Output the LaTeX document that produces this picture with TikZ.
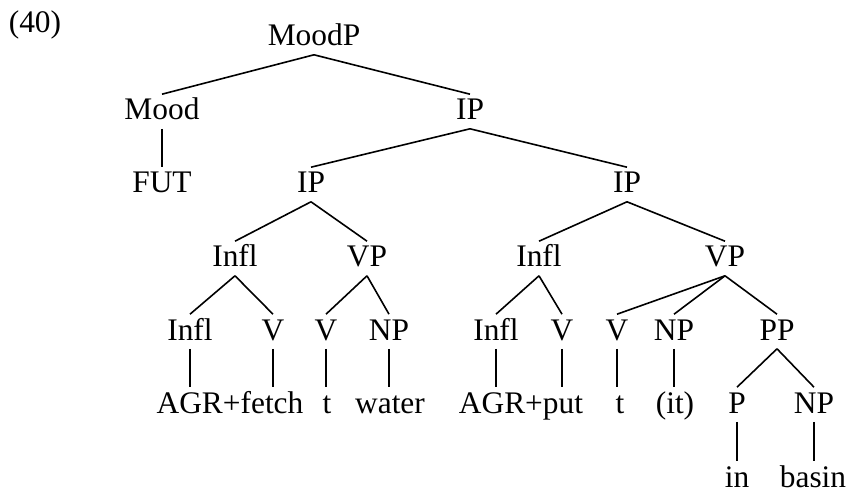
\documentclass[tikz,border=0pt]{standalone}
\usepackage{fontspec}
\setmainfont{Liberation Serif}
\begin{document}
\begin{tikzpicture}[x=0.5pt,y=-0.5pt,line width=0.8pt,
	every node/.style={font=\fontsize{15.7}{18}\selectfont, anchor=base,
		inner sep=1.5pt, text height=11pt, text depth=2.5pt}]
\useasboundingbox (0,0) rectangle (850,491);
\def\down#1#2{\draw (#1.south) -- (#1.south |- #2.north);}

\node (ex) at (35,33) {(40)};

% upper part of the tree
\node (moodp) at (314,46) {MoodP};
\node (mood) at (162,120) {Mood};
\node (ip) at (470,120) {IP};
\node (fut) at (162,193) {FUT};
\node (ipa) at (311,193) {IP};
\node (ipb) at (627,193) {IP};

% first conjunct
\node (infla) at (235,267) {Infl};
\node (vpa) at (367,267) {VP};
\node (inflc) at (190,340) {Infl};
\node (va) at (273,340) {V};
\node (vb) at (326,340) {V};
\node (npa) at (389,340) {NP};
\node (agrf) at (230,413) {AGR+fetch};
\node (ta) at (327,413) {t};
\node (water) at (390,413) {water};

% second conjunct
\node (inflb) at (539,267) {Infl};
\node (vpb) at (725,267) {VP};
\node (infld) at (496,340) {Infl};
\node (vc) at (562,340) {V};
\node (vd) at (617,340) {V};
\node (npb) at (674,340) {NP};
\node (pp) at (777,340) {PP};
\node (agrp) at (521,413) {AGR+put};
\node (tb) at (620,413) {t};
\node (it) at (675,413) {(it)};
\node (p) at (737,413) {P};
\node (npc) at (814,413) {NP};
\node (in) at (737,487) {in};
\node (basin) at (813,487) {basin};

% branches
\draw (moodp.south) -- (mood.north); \draw (moodp.south) -- (ip.north);
\draw (ip.south) -- (ipa.north); \draw (ip.south) -- (ipb.north);
\draw (ipa.south) -- (infla.north); \draw (ipa.south) -- (vpa.north);
\draw (ipb.south) -- (inflb.north); \draw (ipb.south) -- (vpb.north);
\draw (infla.south) -- (inflc.north); \draw (infla.south) -- (va.north);
\draw (vpa.south) -- (vb.north); \draw (vpa.south) -- (npa.north);
\draw (inflb.south) -- (infld.north); \draw (inflb.south) -- (vc.north);
\draw (vpb.south) -- (vd.north); \draw (vpb.south) -- (npb.north);
\draw (vpb.south) -- (pp.north);
\draw (pp.south) -- (p.north); \draw (pp.south) -- (npc.north);

% words
\down{mood}{fut}
\down{inflc}{agrf} \down{va}{agrf} \down{vb}{ta} \down{npa}{water}
\down{infld}{agrp} \down{vc}{agrp} \down{vd}{tb} \down{npb}{it}
\down{p}{in} \down{npc}{basin}
\end{tikzpicture}
\end{document}
